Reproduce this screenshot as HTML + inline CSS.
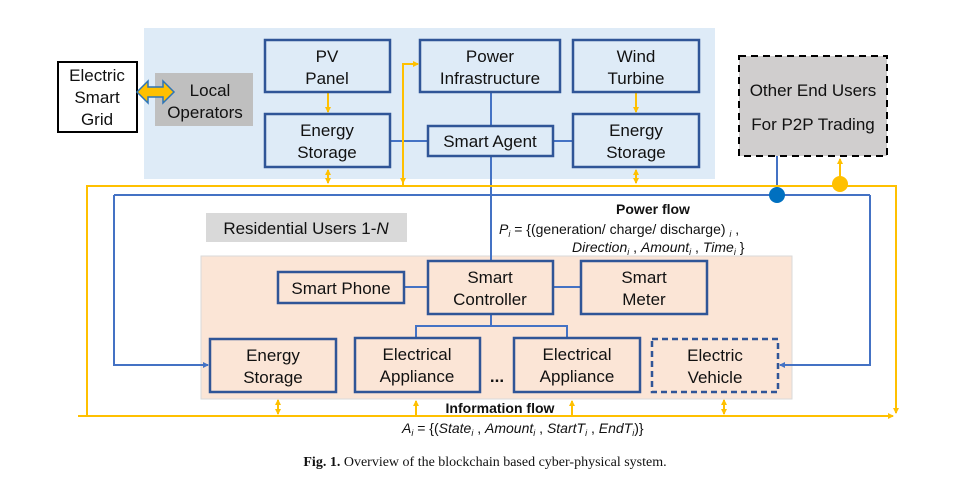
<!DOCTYPE html>
<html><head><meta charset="utf-8"><style>
body{margin:0;background:#fff}
svg text{font-family:"Liberation Sans",Arial,sans-serif;fill:#111}
</style></head><body>
<svg width="970" height="491" viewBox="0 0 970 491" xmlns="http://www.w3.org/2000/svg">
<defs>
<marker id="ay" markerWidth="6" markerHeight="6" refX="5" refY="3" orient="auto-start-reverse" markerUnits="userSpaceOnUse"><path d="M0,0 L6,3 L0,6 z" fill="#ffc000"/></marker>
<marker id="ab" markerWidth="6" markerHeight="6" refX="5" refY="3" orient="auto" markerUnits="userSpaceOnUse"><path d="M0,0 L6,3 L0,6 z" fill="#4472c4"/></marker>
</defs>
<rect x="144" y="28" width="571" height="151" fill="#deebf7"/>
<rect x="201" y="256" width="591" height="143" fill="#fbe5d6" stroke="#d9d9d9"/>
<rect x="58" y="62" width="79" height="70" fill="#fff" stroke="#000" stroke-width="2"/>
<text font-size="17" text-anchor="middle"><tspan x="97" y="81">Electric</tspan><tspan x="97" y="103">Smart</tspan><tspan x="97" y="125">Grid</tspan></text>
<rect x="155" y="73" width="98" height="53" fill="#bfbfbf"/>
<text font-size="17" text-anchor="middle"><tspan x="210" y="96">Local</tspan><tspan x="205" y="118">Operators</tspan></text>
<path d="M137,92 L148,81 L148,87 L163,87 L163,81 L174,92 L163,103 L163,97 L148,97 L148,103 Z" fill="#ffc000" stroke="#2e75b6" stroke-width="1.5"/>
<g stroke="#4472c4" stroke-width="2" fill="none">
<line x1="491" y1="92" x2="491" y2="126"/>
<line x1="491" y1="156" x2="491" y2="262"/>
<line x1="390" y1="141" x2="428" y2="141"/>
<line x1="553" y1="141" x2="573" y2="141"/>
<polyline points="777,155 777,194"/>
<polyline points="114,195 870,195"/>
<polyline points="114,195 114,365 208,365" marker-end="url(#ab)"/>
<polyline points="870,195 870,365 780,365" marker-end="url(#ab)"/>
<line x1="404" y1="287" x2="428" y2="287"/>
<line x1="553" y1="287" x2="581" y2="287"/>
<polyline points="491,314 491,326"/>
<polyline points="416,338 416,326 567,326 567,338"/>
</g>
<g stroke="#ffc000" stroke-width="2" fill="none">
<polyline points="87,417 87,186 896,186 896,413" marker-end="url(#ay)"/>
<polyline points="78,416 893,416" marker-end="url(#ay)"/>
<line x1="87" y1="186" x2="87" y2="414"/>
<line x1="328" y1="170" x2="328" y2="183" marker-start="url(#ay)" marker-end="url(#ay)"/>
<line x1="636" y1="170" x2="636" y2="183" marker-start="url(#ay)" marker-end="url(#ay)"/>
<line x1="328" y1="93" x2="328" y2="112" marker-end="url(#ay)"/>
<line x1="636" y1="93" x2="636" y2="112" marker-end="url(#ay)"/>
<polyline points="403,185 403,64 418,64" marker-end="url(#ay)"/>
<line x1="403" y1="170" x2="403" y2="183" marker-end="url(#ay)"/>
<line x1="840" y1="159" x2="840" y2="182" marker-start="url(#ay)" marker-end="url(#ay)"/>
<line x1="278" y1="400" x2="278" y2="414" marker-start="url(#ay)" marker-end="url(#ay)"/>
<line x1="416" y1="416" x2="416" y2="401" marker-end="url(#ay)"/>
<line x1="572" y1="416" x2="572" y2="401" marker-end="url(#ay)"/>
<line x1="724" y1="400" x2="724" y2="414" marker-start="url(#ay)" marker-end="url(#ay)"/>
</g>
<circle cx="777" cy="195" r="8" fill="#0070c0"/>
<circle cx="840" cy="184" r="8" fill="#ffc000"/>
<g fill="none" stroke="#2f5597" stroke-width="2.5">
<rect x="265" y="40" width="125" height="52"/>
<rect x="265" y="114" width="125" height="53"/>
<rect x="420" y="40" width="140" height="52"/>
<rect x="428" y="126" width="125" height="30"/>
<rect x="573" y="40" width="126" height="52"/>
<rect x="573" y="114" width="126" height="53"/>
<rect x="278" y="272" width="126" height="31"/>
<rect x="428" y="261" width="125" height="53"/>
<rect x="581" y="261" width="126" height="53"/>
<rect x="210" y="339" width="126" height="53"/>
<rect x="355" y="338" width="125" height="54"/>
<rect x="514" y="338" width="126" height="54"/>
<rect x="652" y="339" width="126" height="53" stroke-dasharray="6,4"/>
</g>
<rect x="739" y="56" width="148" height="100" fill="#d0cece" stroke="#000" stroke-width="2" stroke-dasharray="7,5"/>
<g font-size="17" text-anchor="middle">
<text><tspan x="327" y="62">PV</tspan><tspan x="327" y="84">Panel</tspan></text>
<text><tspan x="327" y="136">Energy</tspan><tspan x="327" y="158">Storage</tspan></text>
<text><tspan x="490" y="62">Power</tspan><tspan x="490" y="84">Infrastructure</tspan></text>
<text x="490" y="147">Smart Agent</text>
<text><tspan x="636" y="62">Wind</tspan><tspan x="636" y="84">Turbine</tspan></text>
<text><tspan x="636" y="136">Energy</tspan><tspan x="636" y="158">Storage</tspan></text>
<text><tspan x="813" y="96">Other End Users</tspan><tspan x="813" y="130">For P2P Trading</tspan></text>
<text x="341" y="294">Smart Phone</text>
<text><tspan x="490" y="283">Smart</tspan><tspan x="490" y="305">Controller</tspan></text>
<text><tspan x="644" y="283">Smart</tspan><tspan x="644" y="305">Meter</tspan></text>
<text><tspan x="273" y="361">Energy</tspan><tspan x="273" y="383">Storage</tspan></text>
<text><tspan x="417" y="360">Electrical</tspan><tspan x="417" y="382">Appliance</tspan></text>
<text><tspan x="577" y="360">Electrical</tspan><tspan x="577" y="382">Appliance</tspan></text>
<text><tspan x="715" y="361">Electric</tspan><tspan x="715" y="383">Vehicle</tspan></text>
<text x="497" y="382" font-weight="bold">...</text>
</g>
<rect x="206" y="213" width="201" height="29" fill="#d9d9d9"/>
<text x="306" y="234" font-size="17" text-anchor="middle">Residential Users 1-<tspan font-style="italic">N</tspan></text>
<text x="653" y="214" font-size="14" font-weight="bold" text-anchor="middle">Power flow</text>
<text x="499" y="234" font-size="14"><tspan font-style="italic">P<tspan font-size="9" dy="3">i</tspan></tspan><tspan dy="-3"> = {(generation/  charge/ discharge) </tspan><tspan font-size="9" dy="3" font-style="italic">i</tspan><tspan dy="-3"> ,</tspan></text>
<text x="572" y="252" font-size="14" font-style="italic">Direction<tspan font-size="9" dy="3">i</tspan><tspan dy="-3" font-style="normal"> , </tspan>Amount<tspan font-size="9" dy="3">i</tspan><tspan dy="-3" font-style="normal"> , </tspan>Time<tspan font-size="9" dy="3">i</tspan><tspan dy="-3" font-style="normal"> }</tspan></text>
<text x="500" y="413" font-size="14" font-weight="bold" text-anchor="middle">Information flow</text>
<text x="402" y="433" font-size="14"><tspan font-style="italic">A<tspan font-size="9" dy="3">i</tspan></tspan><tspan dy="-3"> = {(</tspan><tspan font-style="italic">State<tspan font-size="9" dy="3">i</tspan></tspan><tspan dy="-3"> , </tspan><tspan font-style="italic">Amount<tspan font-size="9" dy="3">i</tspan></tspan><tspan dy="-3"> , </tspan><tspan font-style="italic">StartT<tspan font-size="9" dy="3">i</tspan></tspan><tspan dy="-3"> , </tspan><tspan font-style="italic">EndT<tspan font-size="9" dy="3">i</tspan></tspan><tspan dy="-3">)}</tspan></text>
<text x="485" y="466" font-size="14" text-anchor="middle" style="font-family:'Liberation Serif',serif"><tspan font-weight="bold">Fig. 1.</tspan> Overview of the blockchain based cyber-physical system.</text>
</svg>
</body></html>
